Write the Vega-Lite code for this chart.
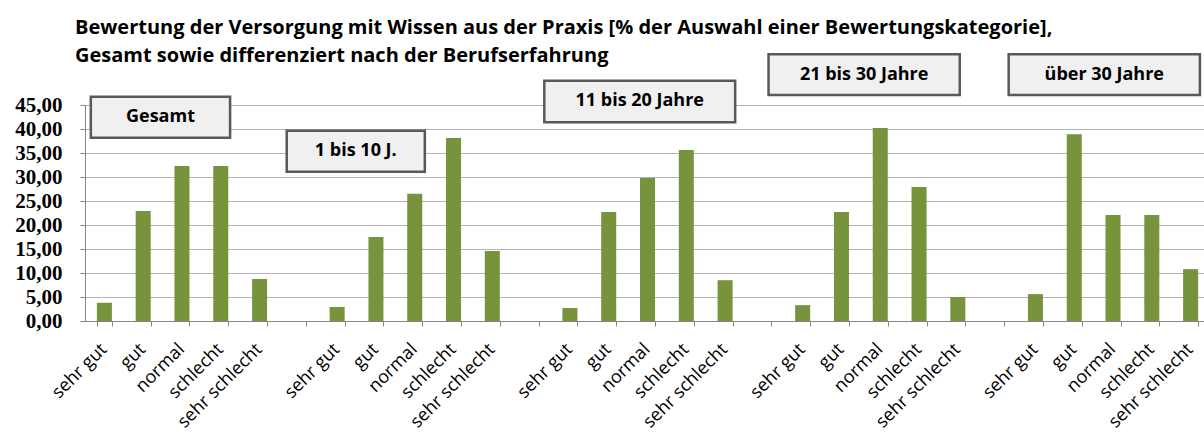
{
  "$schema": "https://vega.github.io/schema/vega-lite/v6.json",
  "autosize": {"type": "none"},
  "width": 1117,
  "height": 216,
  "padding": {"left": 85, "top": 105, "right": 2, "bottom": 116},
  "background": "white",
  "config": {"view": {"stroke": null}},
  "title": {
    "text": ["Bewertung der Versorgung mit Wissen aus der Praxis [% der Auswahl einer Bewertungskategorie],", "Gesamt sowie differenziert nach der Berufserfahrung"],
    "anchor": "start",
    "frame": "group",
    "dx": -10,
    "dy": 53,
    "offset": 40,
    "font": "Open Sans",
    "fontSize": 20,
    "fontWeight": "bold",
    "color": "black",
    "lineHeight": 28
  },
  "datasets": {
    "bars": [
      {"slot": "Gesamt|sehr gut", "gruppe": "Gesamt", "bewertung": "sehr gut", "prozent": 3.8},
      {"slot": "Gesamt|gut", "gruppe": "Gesamt", "bewertung": "gut", "prozent": 22.9},
      {"slot": "Gesamt|normal", "gruppe": "Gesamt", "bewertung": "normal", "prozent": 32.3},
      {"slot": "Gesamt|schlecht", "gruppe": "Gesamt", "bewertung": "schlecht", "prozent": 32.3},
      {"slot": "Gesamt|sehr schlecht", "gruppe": "Gesamt", "bewertung": "sehr schlecht", "prozent": 8.75},
      {"slot": "1-10|sehr gut", "gruppe": "1 bis 10 J.", "bewertung": "sehr gut", "prozent": 2.9},
      {"slot": "1-10|gut", "gruppe": "1 bis 10 J.", "bewertung": "gut", "prozent": 17.5},
      {"slot": "1-10|normal", "gruppe": "1 bis 10 J.", "bewertung": "normal", "prozent": 26.5},
      {"slot": "1-10|schlecht", "gruppe": "1 bis 10 J.", "bewertung": "schlecht", "prozent": 38.1},
      {"slot": "1-10|sehr schlecht", "gruppe": "1 bis 10 J.", "bewertung": "sehr schlecht", "prozent": 14.6},
      {"slot": "11-20|sehr gut", "gruppe": "11 bis 20 Jahre", "bewertung": "sehr gut", "prozent": 2.7},
      {"slot": "11-20|gut", "gruppe": "11 bis 20 Jahre", "bewertung": "gut", "prozent": 22.7},
      {"slot": "11-20|normal", "gruppe": "11 bis 20 Jahre", "bewertung": "normal", "prozent": 29.8},
      {"slot": "11-20|schlecht", "gruppe": "11 bis 20 Jahre", "bewertung": "schlecht", "prozent": 35.6},
      {"slot": "11-20|sehr schlecht", "gruppe": "11 bis 20 Jahre", "bewertung": "sehr schlecht", "prozent": 8.5},
      {"slot": "21-30|sehr gut", "gruppe": "21 bis 30 Jahre", "bewertung": "sehr gut", "prozent": 3.3},
      {"slot": "21-30|gut", "gruppe": "21 bis 30 Jahre", "bewertung": "gut", "prozent": 22.7},
      {"slot": "21-30|normal", "gruppe": "21 bis 30 Jahre", "bewertung": "normal", "prozent": 40.2},
      {"slot": "21-30|schlecht", "gruppe": "21 bis 30 Jahre", "bewertung": "schlecht", "prozent": 27.9},
      {"slot": "21-30|sehr schlecht", "gruppe": "21 bis 30 Jahre", "bewertung": "sehr schlecht", "prozent": 5.0},
      {"slot": "30+|sehr gut", "gruppe": "über 30 Jahre", "bewertung": "sehr gut", "prozent": 5.6},
      {"slot": "30+|gut", "gruppe": "über 30 Jahre", "bewertung": "gut", "prozent": 38.9},
      {"slot": "30+|normal", "gruppe": "über 30 Jahre", "bewertung": "normal", "prozent": 22.1},
      {"slot": "30+|schlecht", "gruppe": "über 30 Jahre", "bewertung": "schlecht", "prozent": 22.1},
      {"slot": "30+|sehr schlecht", "gruppe": "über 30 Jahre", "bewertung": "sehr schlecht", "prozent": 10.8}
    ],
    "boxes": [
      {"label": "Gesamt", "x0": 0.15, "x1": 3.74, "y0": 46.7, "y1": 38.2, "xm": 1.945, "ym": 42.45},
      {"label": "1 bis 10 J.", "x0": 5.2, "x1": 8.76, "y0": 39.65, "y1": 31.1, "xm": 6.98, "ym": 35.38},
      {"label": "11 bis 20 Jahre", "x0": 11.84, "x1": 16.76, "y0": 50.06, "y1": 41.4, "xm": 14.3, "ym": 45.73},
      {"label": "21 bis 30 Jahre", "x0": 17.62, "x1": 22.55, "y0": 55.56, "y1": 47.08, "xm": 20.085, "ym": 51.32},
      {"label": "über 30 Jahre", "x0": 23.81, "x1": 28.74, "y0": 55.56, "y1": 47.08, "xm": 26.275, "ym": 51.32}
    ]
  },
  "layer": [
    {
      "data": {"name": "bars"},
      "mark": {"type": "bar", "color": "#77933C"},
      "encoding": {
        "x": {
          "field": "slot",
          "type": "nominal",
          "sort": null,
          "scale": {
            "domain": ["Gesamt|sehr gut", "Gesamt|gut", "Gesamt|normal", "Gesamt|schlecht", "Gesamt|sehr schlecht", "gap1",
                       "1-10|sehr gut", "1-10|gut", "1-10|normal", "1-10|schlecht", "1-10|sehr schlecht", "gap2",
                       "11-20|sehr gut", "11-20|gut", "11-20|normal", "11-20|schlecht", "11-20|sehr schlecht", "gap3",
                       "21-30|sehr gut", "21-30|gut", "21-30|normal", "21-30|schlecht", "21-30|sehr schlecht", "gap4",
                       "30+|sehr gut", "30+|gut", "30+|normal", "30+|schlecht", "30+|sehr schlecht"],
            "range": [0, 1125],
            "paddingInner": 0.613,
            "paddingOuter": 0.3065
          },
          "axis": {
            "title": null,
            "labelExpr": "split(datum.value, '|')[1] || ''",
            "labelAngle": -45,
            "labelAlign": "right",
            "labelBaseline": "top",
            "labelPadding": 14,
            "labelOffset": -7,
            "labelFont": "Open Sans",
            "labelFontSize": 18,
            "labelColor": "black",
            "labelOverlap": false,
            "labelBound": false,
            "labelFlush": false,
            "tickBand": "extent",
            "tickSize": 5,
            "tickColor": "#868686",
            "domainColor": "#868686",
            "grid": false
          }
        },
        "y": {
          "field": "prozent",
          "type": "quantitative",
          "scale": {"domain": [0, 45], "nice": false},
          "axis": {
            "title": null,
            "values": [0, 5, 10, 15, 20, 25, 30, 35, 40, 45],
            "labelExpr": "replace(format(datum.value, '.2f'), '.', ',')",
            "labelFont": "Liberation Serif",
            "labelFontSize": 21,
            "labelFontWeight": "bold",
            "labelColor": "black",
            "labelPadding": 18,
            "labelOverlap": false,
            "labelFlush": false,
            "labelBound": false,
            "tickSize": 5,
            "tickColor": "#868686",
            "domainColor": "#868686",
            "gridColor": "#b3b3b3",
            "gridWidth": 1
          }
        }
      }
    },
    {
      "data": {"name": "boxes"},
      "mark": {"type": "rect", "fill": "#f0f0f0", "stroke": "#595959", "strokeWidth": 2.5},
      "encoding": {
        "x": {"field": "x0", "type": "quantitative", "scale": {"domain": [0, 29], "range": [0, 1125], "nice": false, "zero": false}, "axis": null},
        "x2": {"field": "x1"},
        "y": {"field": "y0", "type": "quantitative", "scale": {"domain": [0, 45], "nice": false}, "axis": null},
        "y2": {"field": "y1"}
      }
    },
    {
      "data": {"name": "boxes"},
      "mark": {"type": "text", "font": "Open Sans", "fontSize": 18, "fontWeight": "bold", "color": "black", "align": "center", "baseline": "middle"},
      "encoding": {
        "x": {"field": "xm", "type": "quantitative", "scale": {"domain": [0, 29], "range": [0, 1125], "nice": false, "zero": false}, "axis": null},
        "y": {"field": "ym", "type": "quantitative", "scale": {"domain": [0, 45], "nice": false}, "axis": null},
        "text": {"field": "label"}
      }
    }
  ],
  "resolve": {"scale": {"x": "independent", "y": "independent"}}
}
